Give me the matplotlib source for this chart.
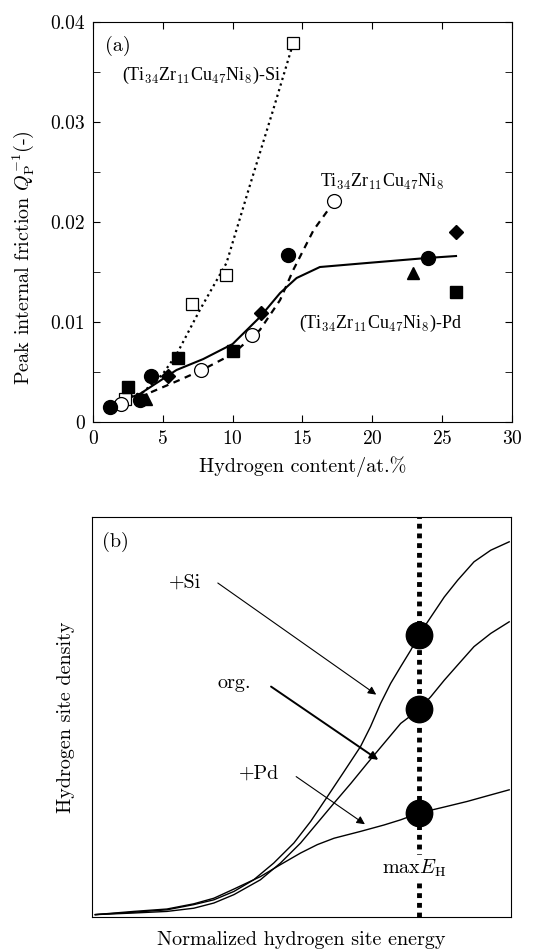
'''
Peak internal friction vs hydrogen content, and hydrogen site density sketch
'''

# Imports
import matplotlib
matplotlib.use('Agg')
import matplotlib.pyplot as plt

plt.rcParams['font.family'] = ['cmr10', 'DejaVu Serif']
plt.rcParams['mathtext.fontset'] = 'cm'
plt.rcParams['axes.unicode_minus'] = False
plt.rcParams['axes.formatter.use_mathtext'] = True

# Data: panel (a)
# open squares, (Ti34Zr11Cu47Ni8)-Si
si_x = [2.27, 7.06, 9.51, 14.34]
si_y = [0.0023, 0.0118, 0.0147, 0.0379]
# open circles, Ti34Zr11Cu47Ni8
org_x = [2.03, 7.77, 11.36, 17.28]
org_y = [0.0018, 0.0052, 0.0087, 0.0221]
# filled symbols, (Ti34Zr11Cu47Ni8)-Pd
pd_circ_x = [1.2, 3.35, 4.18, 13.98, 23.98]
pd_circ_y = [0.0015, 0.0022, 0.0046, 0.0167, 0.0164]
pd_sq_x = [2.51, 6.1, 10.04, 25.99]
pd_sq_y = [0.0035, 0.0064, 0.0071, 0.0130]
pd_dia_x = [5.38, 12.0, 25.99]
pd_dia_y = [0.0046, 0.0109, 0.0190]
pd_tri_x = [3.82, 22.95]
pd_tri_y = [0.0023, 0.0149]

# guide curves
si_line_x = [2.3, 3.6, 5.0, 6.0, 7.65, 9.56, 11.2, 12.9, 14.34]
si_line_y = [0.0024, 0.0030, 0.0048, 0.0068, 0.0112, 0.0159, 0.0235, 0.0312, 0.0379]
org_line_x = [3.35, 6.2, 7.8, 10.0, 11.95, 13.4, 14.34, 15.8, 17.2]
org_line_y = [0.0025, 0.0042, 0.0052, 0.0068, 0.0092, 0.0122, 0.0152, 0.0192, 0.0219]
pd_line_x = [1.2, 3.35, 5.98, 7.9, 10.0, 11.96, 13.4, 14.58, 16.25, 19.6, 23.9, 26.0]
pd_line_y = [0.0017, 0.0028, 0.0052, 0.0063, 0.0078, 0.0105, 0.0129, 0.0144, 0.0155, 0.0159, 0.0164, 0.0166]

x_ticks = [0, 5, 10, 15, 20, 25, 30]
y_ticks = [0, 0.01, 0.02, 0.03, 0.04]
y_tick_labels = ['0', '0.01', '0.02', '0.03', '0.04']

# Data: panel (b), normalized units
b_si_x = [0.008, 0.0996, 0.179, 0.243, 0.291, 0.339, 0.386, 0.434, 0.482, 0.522, 0.562, 0.602, 0.641,
          0.665, 0.689, 0.713, 0.737, 0.761, 0.781, 0.809, 0.841, 0.873, 0.912, 0.952, 0.996]
b_si_y = [0.006, 0.012, 0.018, 0.031, 0.043, 0.064, 0.093, 0.135, 0.185, 0.239, 0.301, 0.364, 0.426,
          0.476, 0.534, 0.584, 0.626, 0.667, 0.706, 0.750, 0.800, 0.842, 0.888, 0.917, 0.938]
b_org_x = [0.008, 0.0996, 0.179, 0.243, 0.291, 0.339, 0.402, 0.450, 0.498, 0.538, 0.578, 0.618,
           0.657, 0.697, 0.737, 0.781, 0.809, 0.841, 0.873, 0.912, 0.952, 0.996]
b_org_y = [0.006, 0.010, 0.014, 0.022, 0.035, 0.056, 0.093, 0.135, 0.185, 0.235, 0.285, 0.334,
           0.384, 0.434, 0.484, 0.519, 0.551, 0.592, 0.630, 0.676, 0.709, 0.738]
b_pd_x = [0.008, 0.0996, 0.179, 0.243, 0.291, 0.339, 0.402, 0.450, 0.498, 0.538, 0.578, 0.641,
          0.697, 0.737, 0.781, 0.841, 0.896, 0.944, 0.996]
b_pd_y = [0.006, 0.014, 0.020, 0.033, 0.047, 0.070, 0.101, 0.131, 0.160, 0.181, 0.197, 0.214,
          0.230, 0.243, 0.260, 0.275, 0.289, 0.303, 0.318]
max_eh = 0.781
max_dots_y = [0.706, 0.519, 0.260]

FS = 14.5
TFS = 14
comp = r'Ti$_{34}$Zr$_{11}$Cu$_{47}$Ni$_{8}$'
serif = ['Liberation Serif', 'DejaVu Serif']

fig = plt.figure(figsize=(5.36, 9.49), dpi=100)

# Panel (a)
ax = fig.add_axes([0.1735, 0.5553, 0.7815, 0.4215])
ax.plot(si_line_x, si_line_y, ':', color='black', lw=1.6)
ax.plot(org_line_x, org_line_y, '--', color='black', lw=1.6, dashes=(3, 2.5))
ax.plot(pd_line_x, pd_line_y, '-', color='black', lw=1.5)
ax.plot(si_x, si_y, 's', mfc='white', mec='black', ms=9, mew=0.9, ls='none')
ax.plot(org_x, org_y, 'o', mfc='white', mec='black', ms=10, mew=0.9, ls='none')
ax.plot(pd_circ_x, pd_circ_y, 'o', color='black', ms=10, ls='none')
ax.plot(pd_sq_x, pd_sq_y, 's', color='black', ms=9, ls='none')
ax.plot(pd_dia_x, pd_dia_y, 'D', color='black', ms=7, ls='none')
ax.plot(pd_tri_x, pd_tri_y, '^', color='black', ms=9, ls='none')

ax.set_xlim(0, 30)
ax.set_ylim(0, 0.04)
ax.set_xticks(x_ticks)
ax.set_yticks(y_ticks)
ax.set_yticklabels(y_tick_labels)
ax.set_yticks([0.005, 0.015, 0.025, 0.035], minor=True)
ax.tick_params(which='both', direction='in', top=True, right=True, labelsize=TFS, length=5, pad=6)
ax.set_xlabel('Hydrogen content/at.%', fontsize=FS, labelpad=6)
ax.set_ylabel(r'Peak internal friction $Q_{\mathrm{P}}^{-1}$(-)', fontsize=FS)
ax.yaxis.set_label_coords(-0.135, 0.41)
ax.text(1.8, 0.0376, '(a)', fontsize=FS, ha='center', va='center')
ax.text(7.77, 0.0347, '(' + comp + ')-Si', fontsize=13, ha='center', va='center', family=serif)
ax.text(20.7, 0.0240, comp, fontsize=13, ha='center', va='center', family=serif)
ax.text(20.56, 0.0099, '(' + comp + ')-Pd', fontsize=13, ha='center', va='center', family=serif)

# Panel (b)
bx = fig.add_axes([0.1716, 0.0337, 0.7815, 0.4215])
bx.plot(b_si_x, b_si_y, '-', color='black', lw=1.0)
bx.plot(b_org_x, b_org_y, '-', color='black', lw=1.0)
bx.plot(b_pd_x, b_pd_y, '-', color='black', lw=1.0)
bx.axvline(max_eh, color='black', lw=3.5, ls=(0, (1, 1)), zorder=1)
bx.plot([max_eh] * len(max_dots_y), max_dots_y, 'o', color='black', ms=19, ls='none', zorder=3)
bx.set_xlim(0, 1)
bx.set_ylim(0, 1)
bx.set_xticks([])
bx.set_yticks([])
bx.set_xlabel('Normalized hydrogen site energy', fontsize=FS, labelpad=10)
bx.set_ylabel('Hydrogen site density', fontsize=FS, labelpad=12)
bx.text(0.056, 0.937, '(b)', fontsize=FS, ha='center', va='center')
bx.text(0.223, 0.836, '+Si', fontsize=FS, ha='center', va='center')
bx.text(0.339, 0.584, 'org.', fontsize=FS, ha='center', va='center')
bx.text(0.398, 0.359, '+Pd', fontsize=FS, ha='center', va='center')
bx.text(max_eh - 0.012, 0.122, r'max$E_{\mathrm{H}}$', fontsize=FS, ha='center', va='center',
        bbox=dict(facecolor='white', edgecolor='none', pad=2), zorder=4)
arrow = dict(arrowstyle='-|>', color='black', lw=0.8, mutation_scale=12)
bx.annotate('', xy=(0.684, 0.552), xytext=(0.295, 0.839), arrowprops=arrow)
bx.annotate('', xy=(0.689, 0.389), xytext=(0.422, 0.580),
            arrowprops=dict(arrowstyle='-|>', color='black', lw=1.4, mutation_scale=12))
bx.annotate('', xy=(0.657, 0.228), xytext=(0.482, 0.355), arrowprops=arrow)

fig.savefig('out.png', dpi=100)
